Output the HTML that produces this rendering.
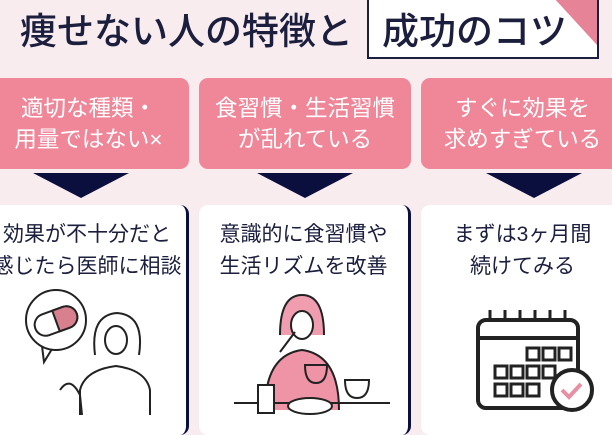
<!DOCTYPE html><html><head><meta charset="utf-8"><style>
body{margin:0;width:612px;height:415px;overflow:hidden;background:#f8ecef;font-family:"Liberation Sans","Noto Sans CJK JP",sans-serif;position:relative}
.a{position:absolute}
.t{color:#1b1e3d;font-size:37px;white-space:nowrap;font-weight:500}
.p{background:#f08799;border-radius:9px;top:78px;height:91px;color:#fff;font-size:22.5px;line-height:31px;text-align:center;display:flex;align-items:center;justify-content:center}
.c{background:#fff;border-radius:9px;top:205px;height:230px;color:#1b1e3d;font-size:21px;line-height:32px;text-align:center;padding-top:14px;box-sizing:border-box;white-space:nowrap}
.tri{width:0;height:0;border-left:48px solid transparent;border-right:48px solid transparent;border-top:25px solid #0b0f3e;top:173px}
</style></head><body>
<div class="a t" style="left:20px;top:1px">痩せない人の特徴と</div>
<div class="a" style="left:367px;top:-5px;width:228px;height:60px;background:#fff;border:2px solid #1b1e3d;overflow:hidden">
<div class="a t" style="left:13px;top:4px">成功のコツ</div>
<svg class="a" style="right:0;top:0" width="44" height="48"><polygon points="0,0 44,0 44,48" fill="#e68397"/></svg></div>
<div class="a p" style="left:-12px;width:201px">適切な種類・<br>用量ではない×</div>
<div class="a p" style="left:199px;width:212px">食習慣・生活習慣<br>が乱れている</div>
<div class="a p" style="left:421px;width:203px">すぐに効果を<br>求めすぎている</div>
<div class="a tri" style="left:33px"></div>
<div class="a tri" style="left:257px"></div>
<div class="a tri" style="left:486px"></div>
<div class="a c" style="left:-12px;width:201px;border-right:3px solid #0b0f3e">効果が不十分だと<br>感じたら医師に相談</div>
<div class="a c" style="left:199px;width:212px;border-right:3px solid #0b0f3e">意識的に食習慣や<br>生活リズムを改善</div>
<div class="a c" style="left:421px;width:203px">まずは3ヶ月間<br>続けてみる</div>
<svg class="a" style="left:0;top:280px" width="612" height="135" fill="none" stroke="#222" stroke-width="2">
<circle cx="56" cy="40" r="30" fill="#fff"/><path d="M42 66 L44 82 L52 69"/>
<rect x="34" y="30" width="44" height="22" rx="11" transform="rotate(-20 56 41)" fill="#fff"/>
<path d="M56 30 h11 a11 11 0 0 1 0 22 h-11z" transform="rotate(-20 56 41)" fill="#d9808e"/>
<path d="M95 75 q-5 -40 22 -42 q28 2 22 42"/><ellipse cx="116" cy="60" rx="11" ry="14" fill="#fff"/>
<path d="M80 135 v-25 q5 -20 36 -24 q30 4 34 24 v25"/><path d="M60 110 q10 -15 20 5 l2 20"/>
<path d="M280 55 q0 -40 22 -40 q22 0 22 40" fill="#f19db0"/><ellipse cx="302" cy="45" rx="11" ry="14" fill="#fff"/>
<path d="M265 130 q0 -55 37 -60 q37 5 37 60" fill="#ef93a6"/><path d="M280 72 l15 -20"/>
<path d="M305 85 h22 q0 18 -11 18 q-11 0 -11 -18z" fill="#ef93a6"/>
<line x1="234" y1="123" x2="390" y2="123"/><rect x="258" y="105" width="16" height="28" fill="#fff"/>
<ellipse cx="310" cy="126" rx="22" ry="8" fill="#fff"/><path d="M345 100 h24 q0 18 -12 18 q-12 0 -12 -18z" fill="#fff"/>
<rect x="478" y="40" width="100" height="88" rx="8" stroke-width="4" fill="#fff"/><line x1="478" y1="58" x2="578" y2="58" stroke-width="4"/>
<g stroke-width="3"><path d="M490 42v-12M505 42v-12M520 42v-12M535 42v-12M550 42v-12M565 42v-12"/>
<rect x="527" y="68" width="12" height="12"/><rect x="543" y="68" width="12" height="12"/><rect x="559" y="68" width="12" height="12"/>
<rect x="495" y="86" width="12" height="12"/><rect x="511" y="86" width="12" height="12"/><rect x="527" y="86" width="12" height="12"/><rect x="543" y="86" width="12" height="12"/>
<rect x="495" y="104" width="12" height="12"/><rect x="511" y="104" width="12" height="12"/><rect x="527" y="104" width="12" height="12"/></g>
<circle cx="572" cy="110" r="20" fill="#fff" stroke-width="4"/><path d="M562 110 l7 7 l12 -13" stroke="#e98fa3" stroke-width="4"/>
</svg>
</body></html>
